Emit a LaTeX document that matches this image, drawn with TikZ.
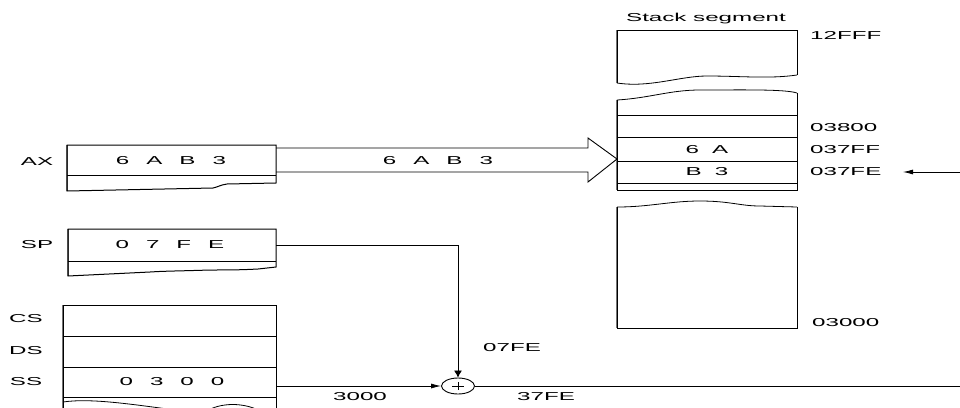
\documentclass[tikz,border=0pt]{standalone}
\usepackage{fontspec}
\setmainfont{Liberation Sans}[FakeStretch=2.1]
\usetikzlibrary{arrows.meta,shapes.geometric}
\newcommand\lblfont{\fontsize{11.5}{13}\selectfont}
\newcommand\gp{\hspace{17pt}}
\newcommand\gq{\hspace{13pt}}
\begin{document}
\begin{tikzpicture}[x=1pt,y=-1pt,
  every node/.style={inner sep=0pt, font=\lblfont},
  box/.style={line width=1pt, line join=miter},
  row/.style={line width=0.8pt},
  side/.style={line width=2pt, draw=black!55},
  conn/.style={line width=0.8pt},
  harrow/.style={conn, -{Latex[length=10pt,width=5pt]}},
  varrow/.style={conn, -{Latex[length=7pt,width=8pt]}},
  lbl/.style={anchor=west}]
\useasboundingbox (0,0) rectangle (960,407);
\clip (0,0) rectangle (960,407);

% ---------- registers ----------
% AX
\draw[side] (67,145) -- (67,191);
\draw[box] (67,145) -- (276,145) -- (276,183) -- (227,184)
  .. controls (220,185) and (218,187) .. (213,188) -- (67,191) -- cycle;
\draw[row] (67,175) -- (276,175);
\node (axl) at (37,162) {AX};
\node (axv) at (171,161) {6\gp A\gp B\gp 3};
% SP
\draw[side] (68,229) -- (68,276);
\draw[box] (68,229) -- (276,229) -- (276,267) -- (258,269)
  .. controls (240,270) and (225,270) .. (210,270)
  .. controls (180,271) and (165,271) .. (150,272) -- (68,276) -- cycle;
\draw[row] (68,261) -- (276,261);
\node (spl) at (37,245) {SP};
\node (spv) at (170,245) {0\gp 7\gp F\gp E};
% CS DS SS
\draw[side] (63,305) -- (63,410);
\draw[box] (63,410) -- (63,305) -- (276,305) -- (276,410);
\draw[row] (63,336) -- (276,336);
\draw[row] (63,367) -- (276,367);
\draw[row] (63,397) -- (276,397);
\draw[row] (63,402) .. controls (90,398) and (130,404) .. (175,410);
\draw[row] (205,412) .. controls (220,402) and (245,402) .. (262,412);
\node (csl) at (26,319) {CS};
\node (dsl) at (26,351) {DS};
\node (ssl) at (26,382) {SS};
\node (ssv) at (172,382) {0\gp 3\gp 0\gp 0};

% ---------- stack segment ----------
\node (title) at (706,19) {Stack segment};
% top part
\draw[side] (617,30) -- (617,83);
\draw[box] (617,83) -- (617,30) -- (797,30) -- (797,75);
\draw[row] (617,83) .. controls (650,88) and (680,76) .. (707,76)
  .. controls (740,76) and (770,79) .. (797,75);
% middle part
\draw[side] (617,100) -- (617,190);
\draw[row] (617,100) .. controls (650,98) and (670,90) .. (700,90)
  .. controls (740,90) and (785,89) .. (797,93);
\draw[box] (617,100) -- (617,190) -- (797,190) -- (797,93);
\draw[row] (617,115) -- (797,115);
\draw[row] (617,137) -- (797,137);
\draw[row] (617,161) -- (797,161);
\draw[row] (617,183) -- (797,183);
\node (m6a) at (707,150) {6\gq A};
\node (mb3) at (707,172) {B\gq 3};
% lower part
\draw[side] (617,207) -- (617,328);
\draw[row] (617,207) .. controls (650,207) and (670,201) .. (700,201)
  .. controls (730,201) and (740,206) .. (760,206) -- (797,207);
\draw[box] (617,207) -- (617,328) -- (797,328) -- (797,207);

% addresses
\node[lbl] (a12fff) at (810,35) {12FFF};
\node[lbl] (a03800) at (810,128) {03800};
\node[lbl] (a037ff) at (810,150) {037FF};
\node[lbl] (a037fe) at (810,172) {037FE};
\node[lbl] (a03000) at (812,323) {03000};

% ---------- data transfer arrow ----------
\coordinate (axout) at (276,160);
\coordinate (tip) at (617,159);
\draw[box, line width=0.9pt] (276,148) -- (588,148) -- (588,138) -- (tip)
  -- (588,182) -- (588,172) -- (276,172);
\node (arv) at (438,161) {6\gp A\gp B\gp 3};

% ---------- address computation ----------
\node[draw, ellipse, line width=0.9pt, minimum width=33pt, minimum height=16pt] (sum) at (458,386) {};
\draw[line width=0.8pt] (452,386) -- (464,386) (458,382) -- (458,390);
\coordinate (spout) at (276,245);
\coordinate (ssout) at (276,386);
\coordinate (rend) at (960,386);
\coordinate (redge) at (960,172);
\coordinate (ptr) at (903,172);
\draw[varrow] (spout) -| (sum.north);
\draw[harrow] (ssout) -- (sum.west);
\draw[conn] (sum.east) -- (rend);
\draw[harrow] (redge) -- (ptr);
\node[lbl] (off) at (483,348) {07FE};
\node[lbl] (base) at (333,397) {3000};
\node[lbl] (phys) at (517,397) {37FE};
\end{tikzpicture}
\end{document}
